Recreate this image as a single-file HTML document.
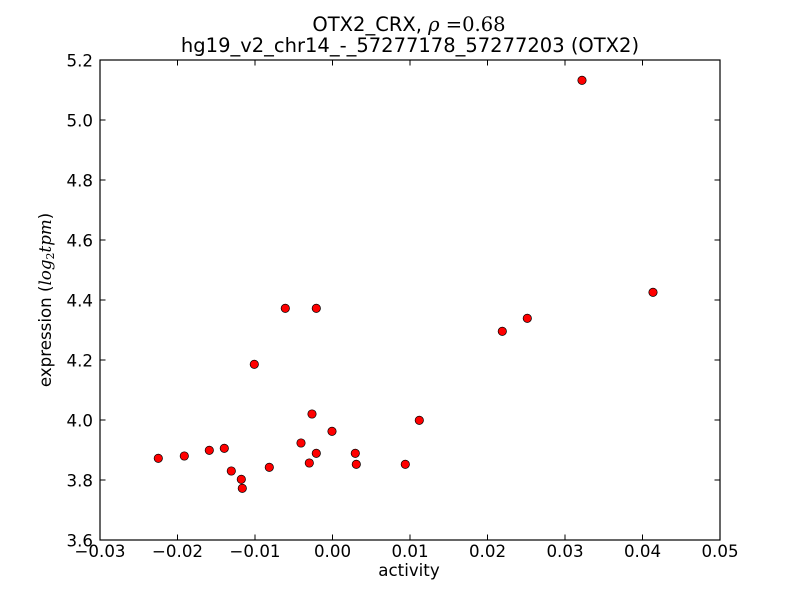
<!DOCTYPE html>
<html>
<head>
<meta charset="utf-8">
<style>
  html, body { margin: 0; padding: 0; background: #ffffff; }
  svg { display: block; }
  text { font-family: "DejaVu Sans", "Liberation Sans", sans-serif; fill: #000; }
  .math { font-family: "DejaVu Serif", "Liberation Serif", serif; font-style: italic; }
  .mathup { font-family: "DejaVu Serif", "Liberation Serif", serif; }
</style>
</head>
<body>
<svg width="800" height="600" viewBox="0 0 800 600" xmlns="http://www.w3.org/2000/svg">
  <rect x="0" y="0" width="800" height="600" fill="#ffffff"/>

  <!-- Title -->
  <text x="409" y="31" text-anchor="middle" font-size="19.5">OTX2_CRX, <tspan class="math">ρ</tspan><tspan class="mathup"> =0.68</tspan></text>
  <text x="410" y="52" text-anchor="middle" font-size="19.5">hg19_v2_chr14_-_57277178_57277203 (OTX2)</text>

  <!-- Axes box -->
  <rect x="100" y="60" width="620" height="480" fill="none" stroke="#000" stroke-width="1.2"/>

  <!-- X ticks -->
  <g stroke="#000" stroke-width="1">
    <line x1="177.5" y1="540" x2="177.5" y2="534.5"/><line x1="177.5" y1="60" x2="177.5" y2="65.5"/>
    <line x1="255" y1="540" x2="255" y2="534.5"/><line x1="255" y1="60" x2="255" y2="65.5"/>
    <line x1="332.5" y1="540" x2="332.5" y2="534.5"/><line x1="332.5" y1="60" x2="332.5" y2="65.5"/>
    <line x1="410" y1="540" x2="410" y2="534.5"/><line x1="410" y1="60" x2="410" y2="65.5"/>
    <line x1="487.5" y1="540" x2="487.5" y2="534.5"/><line x1="487.5" y1="60" x2="487.5" y2="65.5"/>
    <line x1="565" y1="540" x2="565" y2="534.5"/><line x1="565" y1="60" x2="565" y2="65.5"/>
    <line x1="642.5" y1="540" x2="642.5" y2="534.5"/><line x1="642.5" y1="60" x2="642.5" y2="65.5"/>
  </g>
  <!-- Y ticks -->
  <g stroke="#000" stroke-width="1">
    <line x1="100" y1="120" x2="105.5" y2="120"/><line x1="720" y1="120" x2="714.5" y2="120"/>
    <line x1="100" y1="180" x2="105.5" y2="180"/><line x1="720" y1="180" x2="714.5" y2="180"/>
    <line x1="100" y1="240" x2="105.5" y2="240"/><line x1="720" y1="240" x2="714.5" y2="240"/>
    <line x1="100" y1="300" x2="105.5" y2="300"/><line x1="720" y1="300" x2="714.5" y2="300"/>
    <line x1="100" y1="360" x2="105.5" y2="360"/><line x1="720" y1="360" x2="714.5" y2="360"/>
    <line x1="100" y1="420" x2="105.5" y2="420"/><line x1="720" y1="420" x2="714.5" y2="420"/>
    <line x1="100" y1="480" x2="105.5" y2="480"/><line x1="720" y1="480" x2="714.5" y2="480"/>
  </g>

  <!-- X tick labels -->
  <g font-size="16.67" text-anchor="middle">
    <text x="100" y="557">−0.03</text>
    <text x="177.5" y="557">−0.02</text>
    <text x="255" y="557">−0.01</text>
    <text x="332.5" y="557">0.00</text>
    <text x="410" y="557">0.01</text>
    <text x="487.5" y="557">0.02</text>
    <text x="565" y="557">0.03</text>
    <text x="642.5" y="557">0.04</text>
    <text x="720" y="557">0.05</text>
  </g>

  <!-- Y tick labels -->
  <g font-size="16.67" text-anchor="end">
    <text x="93" y="66.5">5.2</text>
    <text x="93" y="126.5">5.0</text>
    <text x="93" y="186.5">4.8</text>
    <text x="93" y="246.5">4.6</text>
    <text x="93" y="306.5">4.4</text>
    <text x="93" y="366.5">4.2</text>
    <text x="93" y="426.5">4.0</text>
    <text x="93" y="486.5">3.8</text>
    <text x="93" y="546.5">3.6</text>
  </g>

  <!-- Axis labels -->
  <text x="409" y="576" text-anchor="middle" font-size="16.67">activity</text>
  <text transform="translate(51,300) rotate(-90)" text-anchor="middle" font-size="16.67">expression (<tspan class="math">log</tspan><tspan class="mathup" font-size="11" dy="3">2</tspan><tspan class="math" dy="-3">tpm</tspan>)</text>

  <!-- Points -->
  <g fill="#ff0000" stroke="#000" stroke-width="0.7">
    <circle cx="158.3" cy="458.3" r="4.2"/>
    <circle cx="184.3" cy="456" r="4.2"/>
    <circle cx="209.3" cy="450.3" r="4.2"/>
    <circle cx="224.3" cy="448.3" r="4.2"/>
    <circle cx="231.3" cy="471" r="4.2"/>
    <circle cx="241.3" cy="479.3" r="4.2"/>
    <circle cx="242.3" cy="488.3" r="4.2"/>
    <circle cx="254.3" cy="364.3" r="4.2"/>
    <circle cx="269.3" cy="467.3" r="4.2"/>
    <circle cx="285.3" cy="308.3" r="4.2"/>
    <circle cx="301" cy="443" r="4.2"/>
    <circle cx="309.3" cy="463" r="4.2"/>
    <circle cx="312" cy="414" r="4.2"/>
    <circle cx="316.3" cy="308.3" r="4.2"/>
    <circle cx="316.3" cy="453.3" r="4.2"/>
    <circle cx="332" cy="431.3" r="4.2"/>
    <circle cx="355.3" cy="453.3" r="4.2"/>
    <circle cx="356.3" cy="464.3" r="4.2"/>
    <circle cx="405.3" cy="464.3" r="4.2"/>
    <circle cx="419.3" cy="420.3" r="4.2"/>
    <circle cx="502.3" cy="331.3" r="4.2"/>
    <circle cx="527.3" cy="318.3" r="4.2"/>
    <circle cx="582" cy="80.3" r="4.2"/>
    <circle cx="653" cy="292.3" r="4.2"/>
  </g>
</svg>
</body>
</html>
